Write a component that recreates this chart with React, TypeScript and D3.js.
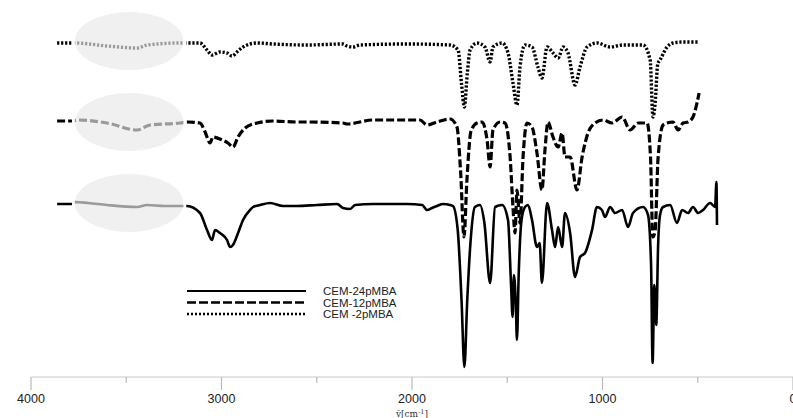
import React, { useEffect, useRef } from 'react';
import * as d3 from 'd3';

// wavenumber (cm-1) / relative transmittance (arbitrary units, 0 = baseline)
const cem24: [number, number][] = [
  [3863, 1], [3785, 1], [3769, 3], [3700, 2], [3601, 0], [3443, -2], [3391, 0], [3300, -1],
  [3202, -1], [3181, -1], [3113, -8], [3076, -25], [3050, -35], [3034, -25], [3008, -28],
  [2971, -35], [2955, -42], [2940, -40], [2913, -28], [2887, -15], [2850, -5], [2834, -2],
  [2798, 0], [2745, 2], [2677, -1], [2604, -1], [2499, 0], [2393, 1], [2362, -3], [2325, -4],
  [2299, 0], [2205, 1], [2026, 1], [1947, 0], [1921, -5], [1895, -3], [1869, -1], [1837, 1],
  [1800, 0], [1785, -1], [1760, -25], [1740, -95], [1725, -162], [1710, -95], [1690, -30],
  [1670, -2], [1643, 0], [1620, -18], [1590, -78], [1564, -2], [1527, 0], [1496, -15],
  [1480, -80], [1472, -112], [1465, -70], [1455, -100], [1449, -135], [1440, -70], [1425, -15],
  [1407, -2], [1391, 0], [1370, -15], [1344, -42], [1330, -38], [1318, -78], [1291, 2],
  [1265, -25], [1249, -42], [1233, -22], [1212, -42], [1197, -8], [1170, -28], [1144, -72],
  [1118, -52], [1092, -48], [1055, -25], [1029, -2], [1003, -5], [987, -12], [960, -2],
  [934, -8], [897, -5], [866, -22], [840, -8], [787, -2], [761, -10], [745, -60], [737, -158],
  [728, -80], [718, -120], [708, -40], [698, -10], [682, -2], [645, 0], [609, -18], [582, -5],
  [551, -8], [525, -2], [498, -8], [472, -5], [435, 2], [409, -2], [402, 23], [399, -20]
];

const cem12: [number, number][] = [
  [3863, 0], [3785, 0], [3753, 1], [3601, -2], [3443, -9], [3375, -4], [3218, -2], [3176, -1],
  [3113, -2], [3086, -11], [3060, -22], [3045, -16], [2997, -19], [2966, -22], [2940, -26],
  [2913, -16], [2876, -7], [2813, -2], [2730, 0], [2604, -1], [2551, -1], [2362, -2],
  [2341, -3], [2205, 1], [1958, 1], [1921, -4], [1869, -1], [1800, 2], [1764, -6], [1745, -50],
  [1727, -116], [1712, -60], [1690, -10], [1659, -2], [1632, -1], [1606, -19], [1590, -46],
  [1575, -9], [1538, -1], [1512, -2], [1485, -36], [1470, -86], [1459, -112], [1449, -69],
  [1433, -102], [1417, -36], [1396, -2], [1370, -6], [1344, -32], [1318, -69], [1302, -29],
  [1286, -1], [1260, -16], [1233, -26], [1212, -12], [1197, -36], [1170, -36], [1134, -69],
  [1107, -36], [1076, -12], [1039, -2], [997, 1], [950, -2], [897, 4], [855, -9], [813, -2],
  [766, -2], [748, -36], [736, -116], [724, -110], [708, -36], [682, -4], [661, -2], [630, -1],
  [603, -9], [577, -2], [551, -1], [525, 4], [504, 18], [493, 28]
];

const cem2: [number, number][] = [
  [3863, 1], [3785, 1], [3769, 1], [3601, -2], [3443, -4], [3391, -1], [3218, 1], [3176, 1],
  [3113, 1], [3076, -6], [3050, -11], [3008, -8], [2971, -9], [2945, -12], [2919, -8],
  [2887, -3], [2813, 1], [2730, 0], [2551, -1], [2362, 0], [2341, -2], [2310, -3], [2273, -1],
  [2026, 0], [1800, -1], [1758, -6], [1740, -40], [1725, -63], [1710, -30], [1695, -6],
  [1659, 1], [1617, -3], [1590, -18], [1575, -3], [1527, 1], [1496, -9], [1470, -39],
  [1449, -61], [1433, -23], [1407, -1], [1370, -3], [1339, -23], [1318, -34], [1291, -3],
  [1260, -9], [1233, -14], [1207, -3], [1181, -9], [1144, -41], [1118, -23], [1081, -3],
  [1029, 1], [960, -3], [892, -1], [787, -1], [750, -16], [735, -73], [724, -60], [710, -20],
  [698, -16], [661, -3], [630, 1], [577, 2], [525, 2], [498, 2]
];

const seriesNames = ['CEM-24pMBA', 'CEM-12pMBA', 'CEM -2pMBA'];
const seriesData = [cem24, cem12, cem2];
const seriesOffsets = [0, 84, 161];
const ellipseCentres = [2, -1, 3];

const xTicks = [4000, 3000, 2000, 1000, 0];
const xMinorTicks = [3500, 2500, 1500, 500];
// highlighted (greyed) range of each spectrum
const greyRange: [number, number] = [3770, 3200];

const W = 793;
const H = 418;

const App: React.FC = () => {
  const svgRef = useRef<SVGSVGElement>(null);

  useEffect(() => {
    if (!svgRef.current) return;
    const svg = d3.select(svgRef.current);
    svg.selectAll('*').remove();

    const x = d3.scaleLinear().domain([4000, 0]).range([31, 793]);
    const y = d3.scaleLinear().domain([0, 205]).range([205, 0]);
    const axisY = 377;
    const sans = '"Liberation Sans", Arial, sans-serif';

    const styles = [
      { dash: null, width: 2.6 },
      { dash: '8,3', width: 3.2 },
      { dash: '2.2,1.8', width: 3.4 }
    ];

    const defs = svg.append('defs');
    defs.append('clipPath').attr('id', 'clip-grey')
      .append('rect')
      .attr('x', x(greyRange[0])).attr('y', 0)
      .attr('width', x(greyRange[1]) - x(greyRange[0])).attr('height', H);
    const blackClip = defs.append('clipPath').attr('id', 'clip-black');
    blackClip.append('rect')
      .attr('x', 0).attr('y', 0)
      .attr('width', x(greyRange[0] + 15)).attr('height', H);
    blackClip.append('rect')
      .attr('x', x(greyRange[1] - 15)).attr('y', 0)
      .attr('width', W).attr('height', H);

    // light grey highlight ellipses
    seriesOffsets.forEach((off, i) => {
      svg.append('ellipse')
        .attr('cx', (x(greyRange[0]) + x(greyRange[1])) / 2)
        .attr('cy', y(off + ellipseCentres[i]))
        .attr('rx', (x(greyRange[1]) - x(greyRange[0])) / 2)
        .attr('ry', 29)
        .attr('fill', '#f0f0f0');
    });

    seriesData.forEach((data, i) => {
      const line = d3.line<[number, number]>()
        .x(d => x(d[0]))
        .y(d => y(d[1] + seriesOffsets[i]))
        .curve(d3.curveMonotoneX);
      const pts = [...data].sort((a, b) => b[0] - a[0]);
      const path = line(pts) || '';
      [['clip-black', '#000'], ['clip-grey', '#9a9a9a']].forEach(([clip, col]) => {
        svg.append('path')
          .attr('d', path)
          .attr('clip-path', `url(#${clip})`)
          .attr('fill', 'none')
          .attr('stroke', col)
          .attr('stroke-width', styles[i].width)
          .attr('stroke-dasharray', styles[i].dash)
          .attr('stroke-linejoin', 'round');
      });
    });

    // legend
    const lg = svg.append('g').attr('transform', 'translate(187,291)');
    seriesNames.forEach((name, i) => {
      lg.append('line')
        .attr('x1', 0).attr('x2', 119)
        .attr('y1', i * 11.5).attr('y2', i * 11.5)
        .attr('stroke', '#000')
        .attr('stroke-width', i === 0 ? 2 : 2.6)
        .attr('stroke-dasharray', i === 1 ? '9,3' : i === 2 ? '2,2' : null);
      lg.append('text')
        .attr('x', 136).attr('y', i * 11.5)
        .attr('dy', '0.35em')
        .style('font-family', sans)
        .style('font-size', '11.5px')
        .attr('fill', '#222')
        .text(name);
    });

    // x axis
    const ax = svg.append('g');
    ax.append('line')
      .attr('x1', x(4000)).attr('x2', W)
      .attr('y1', axisY).attr('y2', axisY)
      .attr('stroke', '#c8c8c8').attr('stroke-width', 1);
    xTicks.forEach(t => {
      ax.append('line')
        .attr('x1', x(t)).attr('x2', x(t))
        .attr('y1', axisY).attr('y2', axisY + 13)
        .attr('stroke', '#bbb').attr('stroke-width', 1.2);
      ax.append('text')
        .attr('x', x(t)).attr('y', axisY + 22)
        .attr('dy', '0.35em')
        .attr('text-anchor', 'middle')
        .style('font-family', sans)
        .style('font-size', '12.5px')
        .attr('fill', '#222')
        .text(String(t));
    });
    xMinorTicks.forEach(t => {
      ax.append('line')
        .attr('x1', x(t)).attr('x2', x(t))
        .attr('y1', axisY).attr('y2', axisY + 6)
        .attr('stroke', '#bbb').attr('stroke-width', 1.2);
    });
    const title = ax.append('text')
      .attr('x', x(2000)).attr('y', axisY + 40)
      .attr('text-anchor', 'middle')
      .style('font-family', '"DejaVu Serif", serif')
      .style('font-size', '9px')
      .attr('fill', '#333');
    title.append('tspan').text('ṽ[cm');
    title.append('tspan').attr('dy', -3).style('font-size', '6.5px').text('-1');
    title.append('tspan').attr('dy', 3).text(']');
  }, []);

  return (
    <svg
      ref={svgRef}
      width={W}
      height={H}
      style={{ position: 'absolute', left: 0, top: 0, background: '#fff' }}
    />
  );
};

export default App;
